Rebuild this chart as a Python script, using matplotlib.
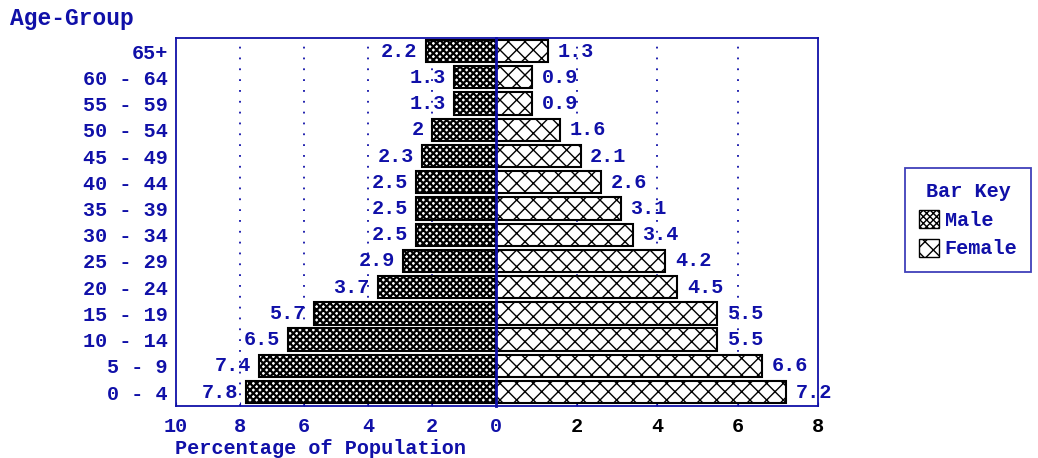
import matplotlib
matplotlib.use('Agg')
import matplotlib.pyplot as plt
from matplotlib.patches import Patch

# data
age_groups = ['0 - 4', '5 - 9', '10 - 14', '15 - 19', '20 - 24', '25 - 29', '30 - 34',
              '35 - 39', '40 - 44', '45 - 49', '50 - 54', '55 - 59', '60 - 64', '65+']
male = [7.8, 7.4, 6.5, 5.7, 3.7, 2.9, 2.5, 2.5, 2.5, 2.3, 2.0, 1.3, 1.3, 2.2]
female = [7.2, 6.6, 5.5, 5.5, 4.5, 4.2, 3.4, 3.1, 2.6, 2.1, 1.6, 0.9, 0.9, 1.3]
male_labels = ['7.8', '7.4', '6.5', '5.7', '3.7', '2.9', '2.5', '2.5', '2.5', '2.3', '2', '1.3', '1.3', '2.2']
female_labels = ['7.2', '6.6', '5.5', '5.5', '4.5', '4.2', '3.4', '3.1', '2.6', '2.1', '1.6', '0.9', '0.9', '1.3']
left_ticks = [-10, -8, -6, -4, -2, 0]
left_tick_labels = ['10', '8', '6', '4', '2', '0']
right_ticks = [2, 4, 6, 8]
right_tick_labels = ['2', '4', '6', '8']

blue = '#1010a8'
fs = 14.5
plt.rcParams['font.family'] = ['Liberation Mono', 'DejaVu Sans Mono']
plt.rcParams['font.weight'] = 'bold'

fig = plt.figure(figsize=(10.38, 4.58), dpi=100)
# male side and female side use different scales, like the original
axl = fig.add_axes([176/1038, 52/458, 320/1038, 368/458])
axr = fig.add_axes([496/1038, 52/458, 322/1038, 368/458], sharey=axl)

y = list(range(len(age_groups)))
neg_male = [-v for v in male]
mbars = axl.barh(y, neg_male, height=0.85, color='white', edgecolor='black', hatch='xxxxx', linewidth=1.5, zorder=2)
fbars = axr.barh(y, female, height=0.85, color='white', edgecolor='black', hatch='xx', linewidth=1.5, zorder=2)
for b in mbars:
    if hasattr(b, 'set_hatch_linewidth'):
        b.set_hatch_linewidth(1.6)

# value labels
for i in y:
    axl.annotate(male_labels[i], (-male[i], i), xytext=(-6, 0), textcoords='offset points',
                 ha='right', va='center', color=blue, fontsize=fs, fontweight='bold', zorder=3)
    axr.annotate(female_labels[i], (female[i], i), xytext=(7, 0), textcoords='offset points',
                 ha='left', va='center', color=blue, fontsize=fs, fontweight='bold', zorder=3,
                 annotation_clip=False)

# grid lines
for g in [-8, -6, -4, -2]:
    axl.axvline(g, color=blue, linestyle=(0, (1, 5)), linewidth=1.3, zorder=1)
for g in [2, 4, 6]:
    axr.axvline(g, color=blue, linestyle=(0, (1, 5)), linewidth=1.3, zorder=1)
axr.axvline(0, color=blue, linewidth=2, zorder=4, clip_on=False)

axl.set_xlim(-10, 0)
axr.set_xlim(0, 8)
axl.set_ylim(-0.53, 13.5)

axl.set_xticks(left_ticks)
axl.set_xticklabels(left_tick_labels, fontsize=fs, fontweight='bold', color=blue)
axr.set_xticks(right_ticks)
axr.set_xticklabels(right_tick_labels, fontsize=fs, fontweight='bold', color='black')

axl.set_yticks(y)
axl.set_yticklabels(age_groups, fontsize=fs, fontweight='bold', color=blue)
axl.tick_params(axis='y', length=0, pad=6)
axr.tick_params(axis='y', left=False, labelleft=False)
for ax in (axl, axr):
    ax.tick_params(axis='x', direction='in', length=3, color=blue, pad=8)
    for s in ax.spines.values():
        s.set_color(blue)
        s.set_linewidth(1.3)
axl.spines['right'].set_visible(False)
axr.spines['left'].set_visible(False)

fig.text(10/1038, 1 - 18/458, 'Age-Group', color=blue, fontsize=16.5, fontweight='bold', va='center', ha='left')
fig.text(175/1038, 1 - 449/458, 'Percentage of Population', color=blue, fontsize=fs, fontweight='bold',
         va='center', ha='left')

handles = [Patch(facecolor='white', edgecolor='black', hatch='xxxxx', label='Male'),
           Patch(facecolor='white', edgecolor='black', hatch='xx', label='Female')]
leg = fig.legend(handles=handles, title='Bar Key', loc='center', bbox_to_anchor=(968/1038, 1 - 220/458),
                 fancybox=False, edgecolor=blue, handlelength=1.0, handleheight=1.0, handletextpad=0.3,
                 prop={'size': fs, 'weight': 'bold'}, title_fontproperties={'size': fs, 'weight': 'bold'},
                 borderpad=0.65, labelspacing=0.45, borderaxespad=0)
for t in leg.get_texts():
    t.set_color(blue)
leg.get_title().set_color(blue)
leg.get_frame().set_linewidth(1.3)

fig.savefig('out.png', dpi=100)
